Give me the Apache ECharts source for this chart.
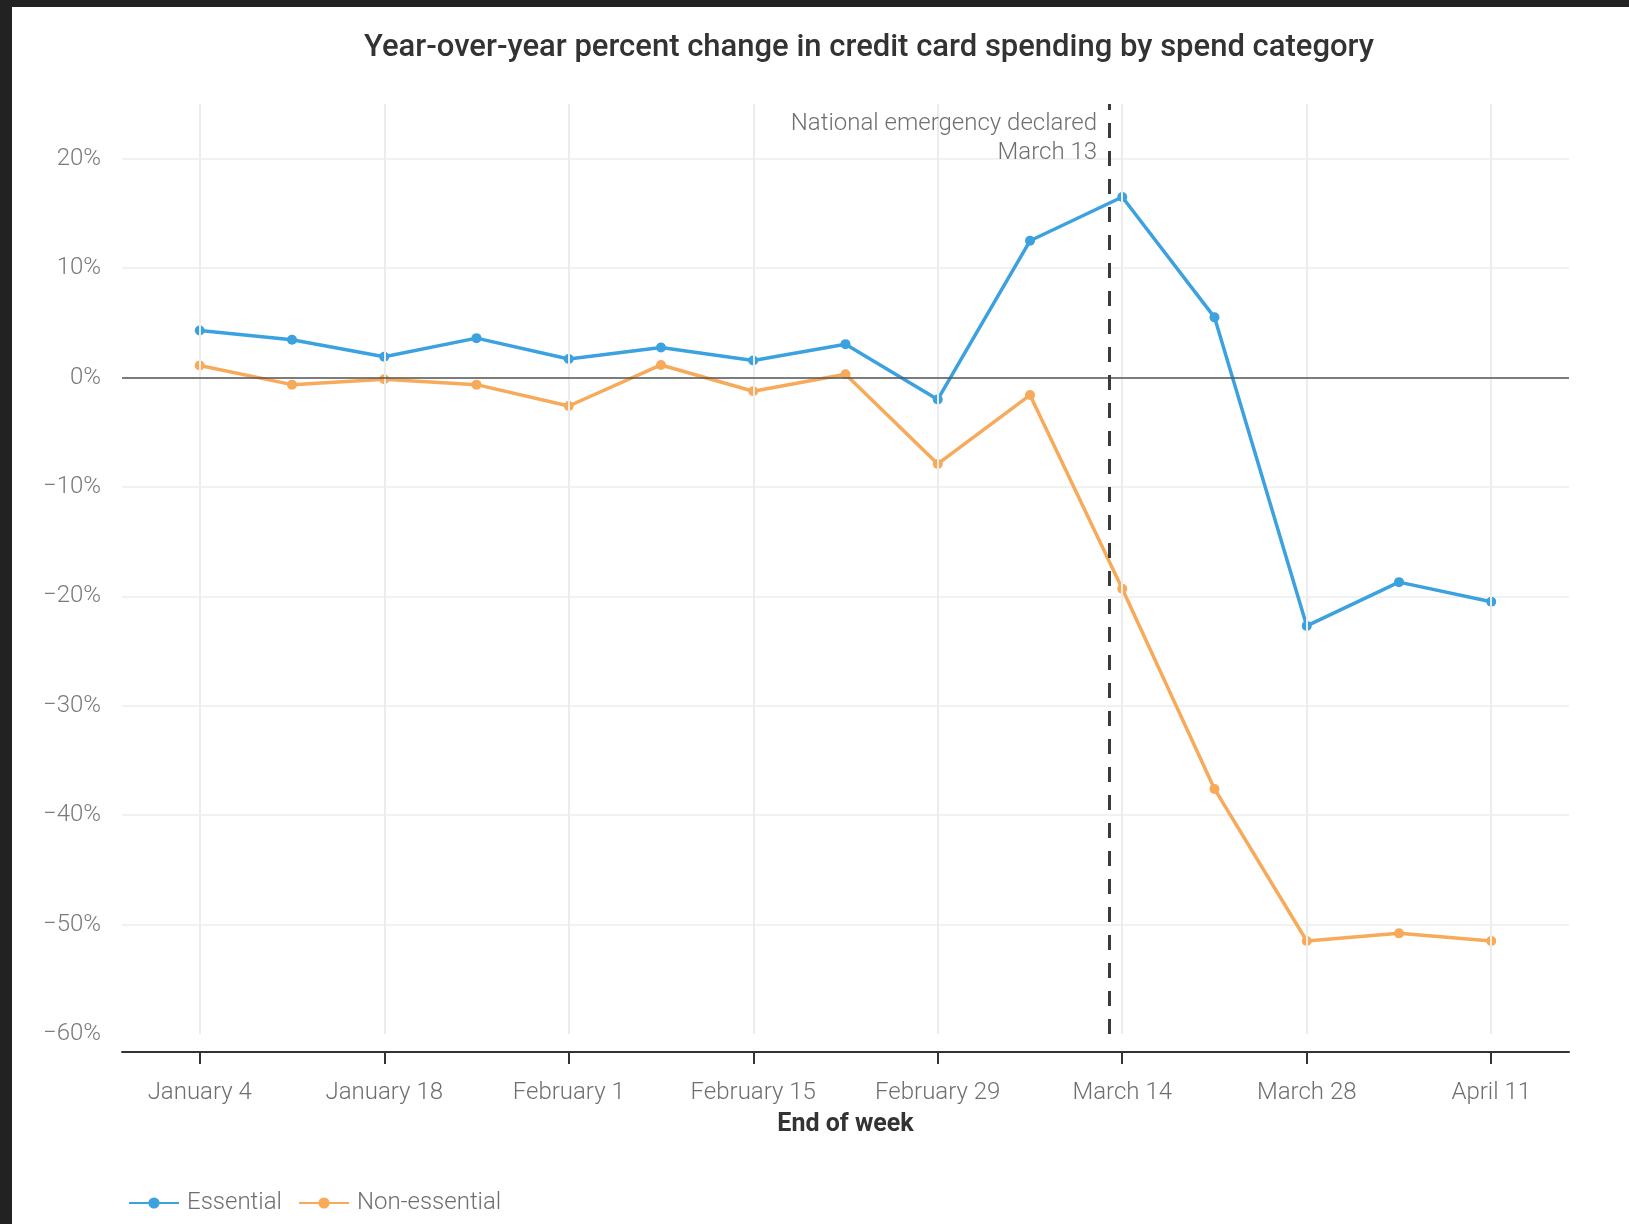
<!DOCTYPE html>
<html>
<head>
<meta charset="utf-8">
<script src="https://cdn.jsdelivr.net/npm/echarts@6/dist/echarts.min.js"></script>
<style>
  html, body { margin: 0; padding: 0; background: #222; width: 1629px; height: 1224px; overflow: hidden; }
  #chart { position: absolute; left: 12px; top: 7px; width: 1617px; height: 1217px; background: #fff; }
</style>
</head>
<body>
<div id="chart"></div>
<script>
// ---- Data ----
const weeks = ['January 4', 'January 11', 'January 18', 'January 25', 'February 1', 'February 8',
  'February 15', 'February 22', 'February 29', 'March 7', 'March 14', 'March 21', 'March 28',
  'April 4', 'April 11'];
const essential = [4.3, 3.45, 1.9, 3.6, 1.7, 2.75, 1.55, 3.05, -2.0, 12.5, 16.5, 5.5, -22.7, -18.7, -20.5];
const nonEssential = [1.1, -0.65, -0.15, -0.65, -2.6, 1.15, -1.25, 0.3, -7.9, -1.6, -19.3, -37.6, -51.5, -50.8, -51.5];
const tickLabels = ['January 4', 'January 18', 'February 1', 'February 15', 'February 29', 'March 14', 'March 28', 'April 11'];
const yTicks = [-60, -50, -40, -30, -20, -10, 0, 10, 20];
const emergencyDate = 'March 13';
const emergencyText = ['National emergency declared', 'March 13'];

// days since January 4 (2020, leap year)
const monthStart = { January: 0, February: 31, March: 60, April: 91 };
function dayIndex(label) {
  const [m, d] = label.split(' ');
  return monthStart[m] + Number(d) - 4;
}
const tickValues = tickLabels.map(dayIndex);
const labelByDay = {};
weeks.forEach(w => { labelByDay[dayIndex(w)] = w; });

const BLUE = '#3ba2df';
const ORANGE = '#f6aa5a';
const FONT = 'Roboto';

const chart = echarts.init(document.getElementById('chart'), null, { renderer: 'canvas' });
const option = {
  animation: false,
  backgroundColor: '#fff',
  textStyle: { fontFamily: FONT },
  title: {
    text: 'Year-over-year percent change in credit card spending by spend category',
    left: 852, top: 21, textAlign: 'center',
    textStyle: { fontFamily: FONT, fontSize: 31, fontWeight: 500, color: '#333' }
  },
  legend: {
    data: ['Essential', 'Non-essential'],
    left: 111, top: 1179,
    itemWidth: 50, itemHeight: 14, itemGap: 16,
    textStyle: { fontFamily: FONT, fontSize: 24, fontWeight: 300, color: '#6f6f6f', padding: [0, 0, 0, 3] }
  },
  grid: { left: 110, right: 60, top: 97, bottom: 190, containLabel: false },
  xAxis: {
    type: 'value',
    min: -5.9, max: 103.9,
    offset: 18,
    name: 'End of week', nameLocation: 'middle', nameGap: 60,
    nameTextStyle: { fontFamily: FONT, fontSize: 25, fontWeight: 'bold', color: '#333' },
    axisLine: { show: true, onZero: false, lineStyle: { color: '#333', width: 2 } },
    axisTick: { show: true, customValues: tickValues, length: 12, lineStyle: { color: '#333', width: 2 } },
    axisLabel: {
      customValues: tickValues, margin: 29,
      fontFamily: FONT, fontSize: 24, fontWeight: 300, color: '#6f6f6f',
      formatter: v => labelByDay[v] || ''
    },
    splitLine: { show: false }
  },
  yAxis: {
    type: 'value',
    min: -60, max: 25, interval: 10,
    axisLine: { show: false },
    axisTick: { show: false },
    axisLabel: {
      customValues: yTicks, margin: 21,
      fontFamily: FONT, fontSize: 24, fontWeight: 300, color: '#7a7a7a',
      formatter: v => (v < 0 ? '\u2212' + Math.abs(v) : v) + '%'
    },
    splitLine: { show: true, showMinLine: false, showMaxLine: false, lineStyle: { color: '#ececec', width: 1.5 } }
  },
  series: [
    {
      name: 'grid', type: 'line', data: [], z: 1, silent: true,
      markLine: {
        silent: true, symbol: 'none', label: { show: false }, animation: false,
        data: tickValues.map(v => ({ xAxis: v, lineStyle: { color: '#ececec', width: 2, type: 'solid' } }))
          .concat([{ yAxis: 0, lineStyle: { color: '#555', width: 1.5, type: 'solid' } }])
      }
    },
    {
      name: 'Essential', type: 'line', z: 3,
      data: weeks.map((w, i) => [dayIndex(w), essential[i]]),
      symbol: 'circle', symbolSize: 10,
      itemStyle: { color: BLUE },
      lineStyle: { color: BLUE, width: 3.5 }
    },
    {
      name: 'Non-essential', type: 'line', z: 3,
      data: weeks.map((w, i) => [dayIndex(w), nonEssential[i]]),
      symbol: 'circle', symbolSize: 10,
      itemStyle: { color: ORANGE },
      lineStyle: { color: ORANGE, width: 3.5 }
    },
    {
      name: 'emergency', type: 'line', data: [], z: 4, silent: true,
      markLine: {
        silent: true, symbol: 'none', label: { show: false }, animation: false,
        data: [{ xAxis: dayIndex(emergencyDate), lineStyle: { color: '#3a3a3a', width: 3, type: [15, 13] } }]
      },
      markPoint: {
        silent: true, symbol: 'circle', symbolSize: 0, animation: false,
        data: [{ coord: [dayIndex(emergencyDate), 25] }],
        label: {
          show: true, position: [0, 0], align: 'right', verticalAlign: 'top',
          offset: [-12, 5], lineHeight: 29,
          fontFamily: FONT, fontSize: 24, fontWeight: 300, color: '#6f6f6f',
          formatter: emergencyText.join('\n')
        }
      }
    }
  ]
};
chart.setOption(option);
</script>
</body>
</html>
